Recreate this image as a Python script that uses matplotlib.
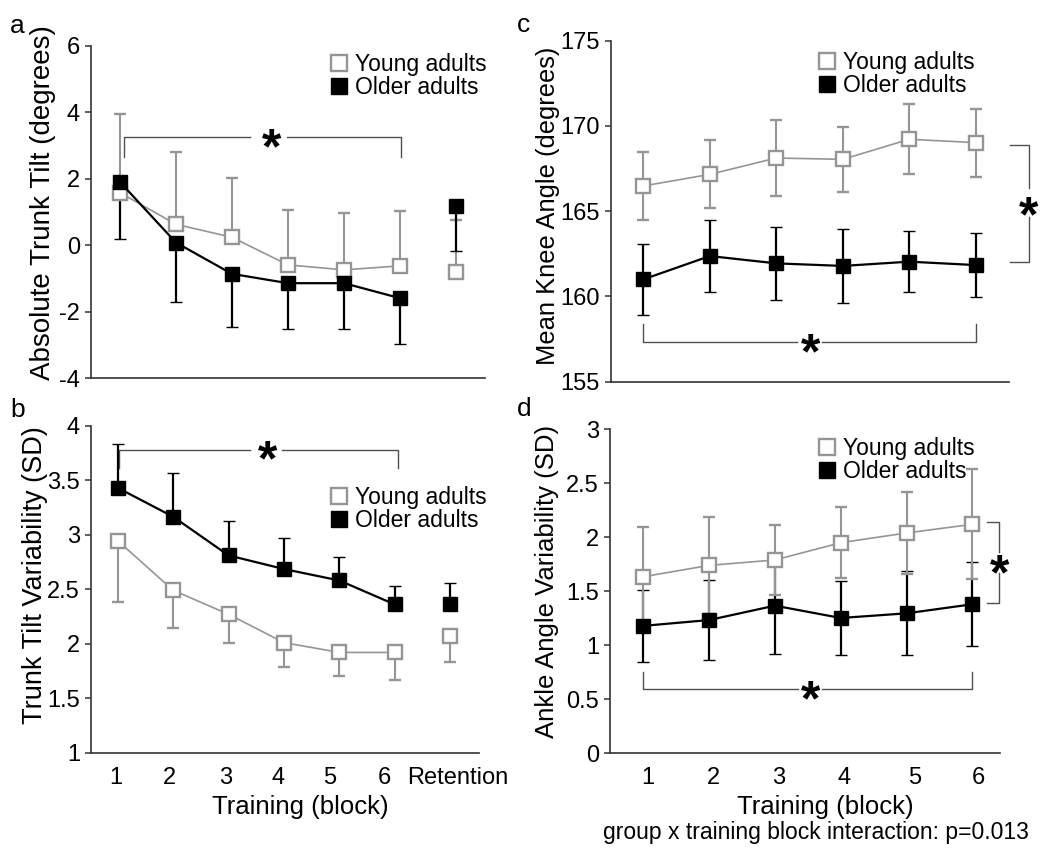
import matplotlib
matplotlib.use("Agg")
import matplotlib.pyplot as plt
from matplotlib.lines import Line2D

plt.rcParams['font.family'] = ['Liberation Sans', 'DejaVu Sans']
plt.rcParams['axes.unicode_minus'] = False

# ---------------- data ----------------
blocks = [1, 2, 3, 4, 5, 6]
retention_x = 7
block_labels = ['1', '2', '3', '4', '5', '6', 'Retention']

# a: absolute trunk tilt (degrees)
young_tilt = [1.58, 0.63, 0.24, -0.59, -0.74, -0.62]
young_tilt_sd = [2.37, 2.16, 1.77, 1.66, 1.70, 1.65]
older_tilt = [1.90, 0.08, -0.86, -1.14, -1.14, -1.59]
older_tilt_sd = [1.72, 1.78, 1.59, 1.39, 1.39, 1.39]
young_tilt_ret, young_tilt_ret_sd = -0.79, 1.55
older_tilt_ret, older_tilt_ret_sd = 1.18, 1.35

# b: trunk tilt variability (SD)
young_var = [2.945, 2.49, 2.27, 2.01, 1.92, 1.92]
young_var_sd = [0.565, 0.35, 0.26, 0.22, 0.22, 0.25]
older_var = [3.43, 3.165, 2.81, 2.685, 2.58, 2.36]
older_var_sd = [0.40, 0.405, 0.315, 0.285, 0.22, 0.17]
young_var_ret, young_var_ret_sd = 2.07, 0.24
older_var_ret, older_var_ret_sd = 2.36, 0.20

# c: mean knee angle (degrees)
young_knee = [166.48, 167.16, 168.12, 168.04, 169.22, 169.02]
young_knee_sd = [2.02, 2.0, 2.2, 1.9, 2.05, 2.0]
older_knee = [161.0, 162.37, 161.94, 161.79, 162.04, 161.84]
older_knee_sd = [2.1, 2.1, 2.13, 2.15, 1.8, 1.9]

# d: ankle angle variability (SD)
young_ankle = [1.635, 1.74, 1.79, 1.95, 2.04, 2.12]
young_ankle_sd = [0.465, 0.45, 0.32, 0.33, 0.38, 0.51]
older_ankle = [1.18, 1.234, 1.367, 1.253, 1.296, 1.38]
older_ankle_sd = [0.33, 0.37, 0.445, 0.34, 0.39, 0.39]

ticks_a = [-4, -2, 0, 2, 4, 6]
ticks_b = [1, 1.5, 2, 2.5, 3, 3.5, 4]
ticks_b_labels = ['1', '1.5', '2', '2.5', '3', '3.5', '4']
ticks_c = [155, 160, 165, 170, 175]
ticks_d = [0, 0.5, 1, 1.5, 2, 2.5, 3]
ticks_d_labels = ['0', '0.5', '1', '1.5', '2', '2.5', '3']

legend_labels = ['Young adults', 'Older adults']
note = 'group x training block interaction: p=0.013'

# ---------------- style ----------------
GRAY = '#959595'
BLACK = '#000000'
BRACKET = '#505050'
SPINE = '#333333'
FS_TICK = 17
FS_XLABEL = 18.5
FS_LEG = 16.5
FS_STAR = 36

# x positions where the tick labels sit (label layout of the original figure)
label_pos_b = [0.96, 1.94, 2.94, 3.90, 4.83, 5.81, 7.13]
label_pos_d = [1.07, 2.07, 3.06, 4.05, 5.12, 6.09]

W, H = 1050, 858
fig = plt.figure(figsize=(W / 100, H / 100), dpi=100)
fig.patch.set_facecolor('white')


def axes_px(left, right, top, bottom):
    return fig.add_axes([left / W, 1 - bottom / H, (right - left) / W, (bottom - top) / H])


ax_a = axes_px(91, 485, 45.7, 378.3)
ax_b = axes_px(91, 479, 425.7, 752.7)
ax_c = axes_px(611, 1009, 40.7, 381.7)
ax_d = axes_px(610, 1000, 429.3, 753.3)

young_kw = dict(color=GRAY, marker='s', markersize=9.5, markerfacecolor='white',
                markeredgecolor=GRAY, markeredgewidth=1.7, lw=1.2,
                ecolor=GRAY, elinewidth=1.5, capsize=4.5, capthick=1.5)
older_kw = dict(color=BLACK, marker='s', markersize=10, markerfacecolor=BLACK,
                markeredgecolor=BLACK, markeredgewidth=1.0, lw=1.6,
                ecolor=BLACK, elinewidth=1.6, capsize=4.5, capthick=1.6)


def style_axes(ax, xlim, ylim, yticks, ylabels=None):
    ax.set_xlim(*xlim)
    ax.set_ylim(*ylim)
    for s in ['top', 'right']:
        ax.spines[s].set_visible(False)
    for s in ['left', 'bottom']:
        ax.spines[s].set_color(SPINE)
        ax.spines[s].set_linewidth(1.2)
    ax.set_yticks(yticks)
    if ylabels is not None:
        ax.set_yticklabels(ylabels)
    ax.tick_params(axis='y', direction='out', length=4, width=1.1, color=SPINE,
                   labelsize=FS_TICK, pad=4)
    ax.tick_params(axis='x', length=0, labelsize=FS_TICK, pad=10)
    ax.set_facecolor('none')


def star(ax, x, y):
    ax.annotate('*', xy=(x, y), xytext=(0, -0.52 * FS_STAR), textcoords='offset points',
                ha='center', va='baseline', fontsize=FS_STAR, fontweight='bold',
                annotation_clip=False)


def bracket_h(ax, x0, x1, y, ytip, gap0, gap1, star_x):
    ax.plot([x0, x0, gap0], [ytip, y, y], color=BRACKET, lw=1.0, clip_on=False, zorder=1)
    ax.plot([gap1, x1, x1], [y, y, ytip], color=BRACKET, lw=1.0, clip_on=False, zorder=1)
    star(ax, star_x, y)


def bracket_v(ax, x, xtip, y0, y1, gap0, gap1, star_y):
    ax.plot([xtip, x, x], [y0, y0, gap0], color=BRACKET, lw=1.0, clip_on=False, zorder=1)
    ax.plot([x, x, xtip], [gap1, y1, y1], color=BRACKET, lw=1.0, clip_on=False, zorder=1)
    star(ax, x, star_y)


def add_legend(ax, x, y):
    handles = [Line2D([], [], ls='none', marker='s', markersize=11, markerfacecolor='white',
                      markeredgecolor=GRAY, markeredgewidth=1.7),
               Line2D([], [], ls='none', marker='s', markersize=11, markerfacecolor=BLACK,
                      markeredgecolor=BLACK)]
    ax.legend(handles, legend_labels, loc='center left', bbox_to_anchor=(x, y),
              frameon=False, fontsize=FS_LEG, handlelength=0.7, handletextpad=0.35,
              labelspacing=0.0, borderpad=0, borderaxespad=0)


zeros6 = [0] * 6

# ---- panel a ----
ax = ax_a
ax.errorbar(blocks, young_tilt, yerr=[zeros6, young_tilt_sd], **young_kw)
ax.errorbar([retention_x], [young_tilt_ret], yerr=[[0], [young_tilt_ret_sd]], **young_kw)
ax.errorbar(blocks, older_tilt, yerr=[older_tilt_sd, zeros6], **older_kw)
ax.errorbar([retention_x], [older_tilt_ret], yerr=[[older_tilt_ret_sd], [0]], **older_kw)
style_axes(ax, (0.482, 7.52), (-4, 6), ticks_a)
ax.set_xticks([])
ax.set_ylabel('Absolute Trunk Tilt (degrees)', fontsize=20)
bracket_h(ax, 1.08, 6.02, 3.25, 2.66, 3.32, 3.98, 3.71)
add_legend(ax, 0.609, 0.91)

# ---- panel b ----
ax = ax_b
ax.errorbar(blocks, older_var, yerr=[zeros6, older_var_sd], **older_kw)
ax.errorbar([retention_x], [older_var_ret], yerr=[[0], [older_var_ret_sd]], **older_kw)
ax.errorbar(blocks, young_var, yerr=[young_var_sd, zeros6], **young_kw)
ax.errorbar([retention_x], [young_var_ret], yerr=[[young_var_ret_sd], [0]], **young_kw)
style_axes(ax, (0.518, 7.52), (1, 4), ticks_b, ticks_b_labels)
ax.set_xticks(label_pos_b)
ax.set_xticklabels(block_labels)
ax.set_ylabel('Trunk Tilt Variability (SD)', fontsize=19.5)
ax.set_xlabel('Training (block)', fontsize=FS_XLABEL)
bracket_h(ax, 1.02, 6.05, 3.78, 3.61, 3.39, 3.96, 3.70)
add_legend(ax, 0.619, 0.745)

# ---- panel c ----
ax = ax_c
ax.errorbar(blocks, older_knee, yerr=older_knee_sd, **older_kw)
ax.errorbar(blocks, young_knee, yerr=young_knee_sd, **young_kw)
style_axes(ax, (0.514, 6.50), (155, 175), ticks_c)
ax.set_xticks([])
ax.set_ylabel('Mean Knee Angle (degrees)', fontsize=18.4)
bracket_h(ax, 1.0, 6.0, 157.31, 158.38, 3.31, 3.68, 3.51)
bracket_v(ax, 6.80, 6.52, 168.88, 162.02, 166.34, 164.68, 165.37)
add_legend(ax, 0.522, 0.903)

# ---- panel d ----
ax = ax_d
ax.errorbar(blocks, older_ankle, yerr=older_ankle_sd, **older_kw)
ax.errorbar(blocks, young_ankle, yerr=young_ankle_sd, **young_kw)
style_axes(ax, (0.494, 6.42), (0, 3), ticks_d, ticks_d_labels)
ax.set_xticks(label_pos_d)
ax.set_xticklabels(block_labels[:6])
ax.set_ylabel('Ankle Angle Variability (SD)', fontsize=18.5)
ax.set_xlabel('Training (block)', fontsize=FS_XLABEL)
bracket_h(ax, 1.0, 6.0, 0.593, 0.757, 3.35, 3.71, 3.54)
bracket_v(ax, 6.41, 6.22, 2.14, 1.39, 1.867, 1.667, 1.76)
add_legend(ax, 0.535, 0.904)

# label positions
for ax, (cx, cy) in [(ax_a, (-0.122, 0.527)), (ax_b, (-0.144, 0.543)),
                     (ax_c, (-0.158, 0.515)), (ax_d, (-0.162, 0.529))]:
    ax.yaxis.label.set_verticalalignment('center')
    ax.yaxis.set_label_coords(cx, cy)
ax_b.xaxis.set_label_coords(0.539, -0.13)
ax_d.xaxis.set_label_coords(0.551, -0.129)

fig.text(815.5 / W, 1 - 833 / H, note, ha='center', va='center', fontsize=FS_LEG)

for lab, (px, py) in zip('abcd', [(10, 33), (10, 417), (517, 32), (517, 416)]):
    fig.text(px / W, 1 - py / H, lab, ha='left', va='baseline', fontsize=19)

fig.savefig('out.png', dpi=100, facecolor='white')
